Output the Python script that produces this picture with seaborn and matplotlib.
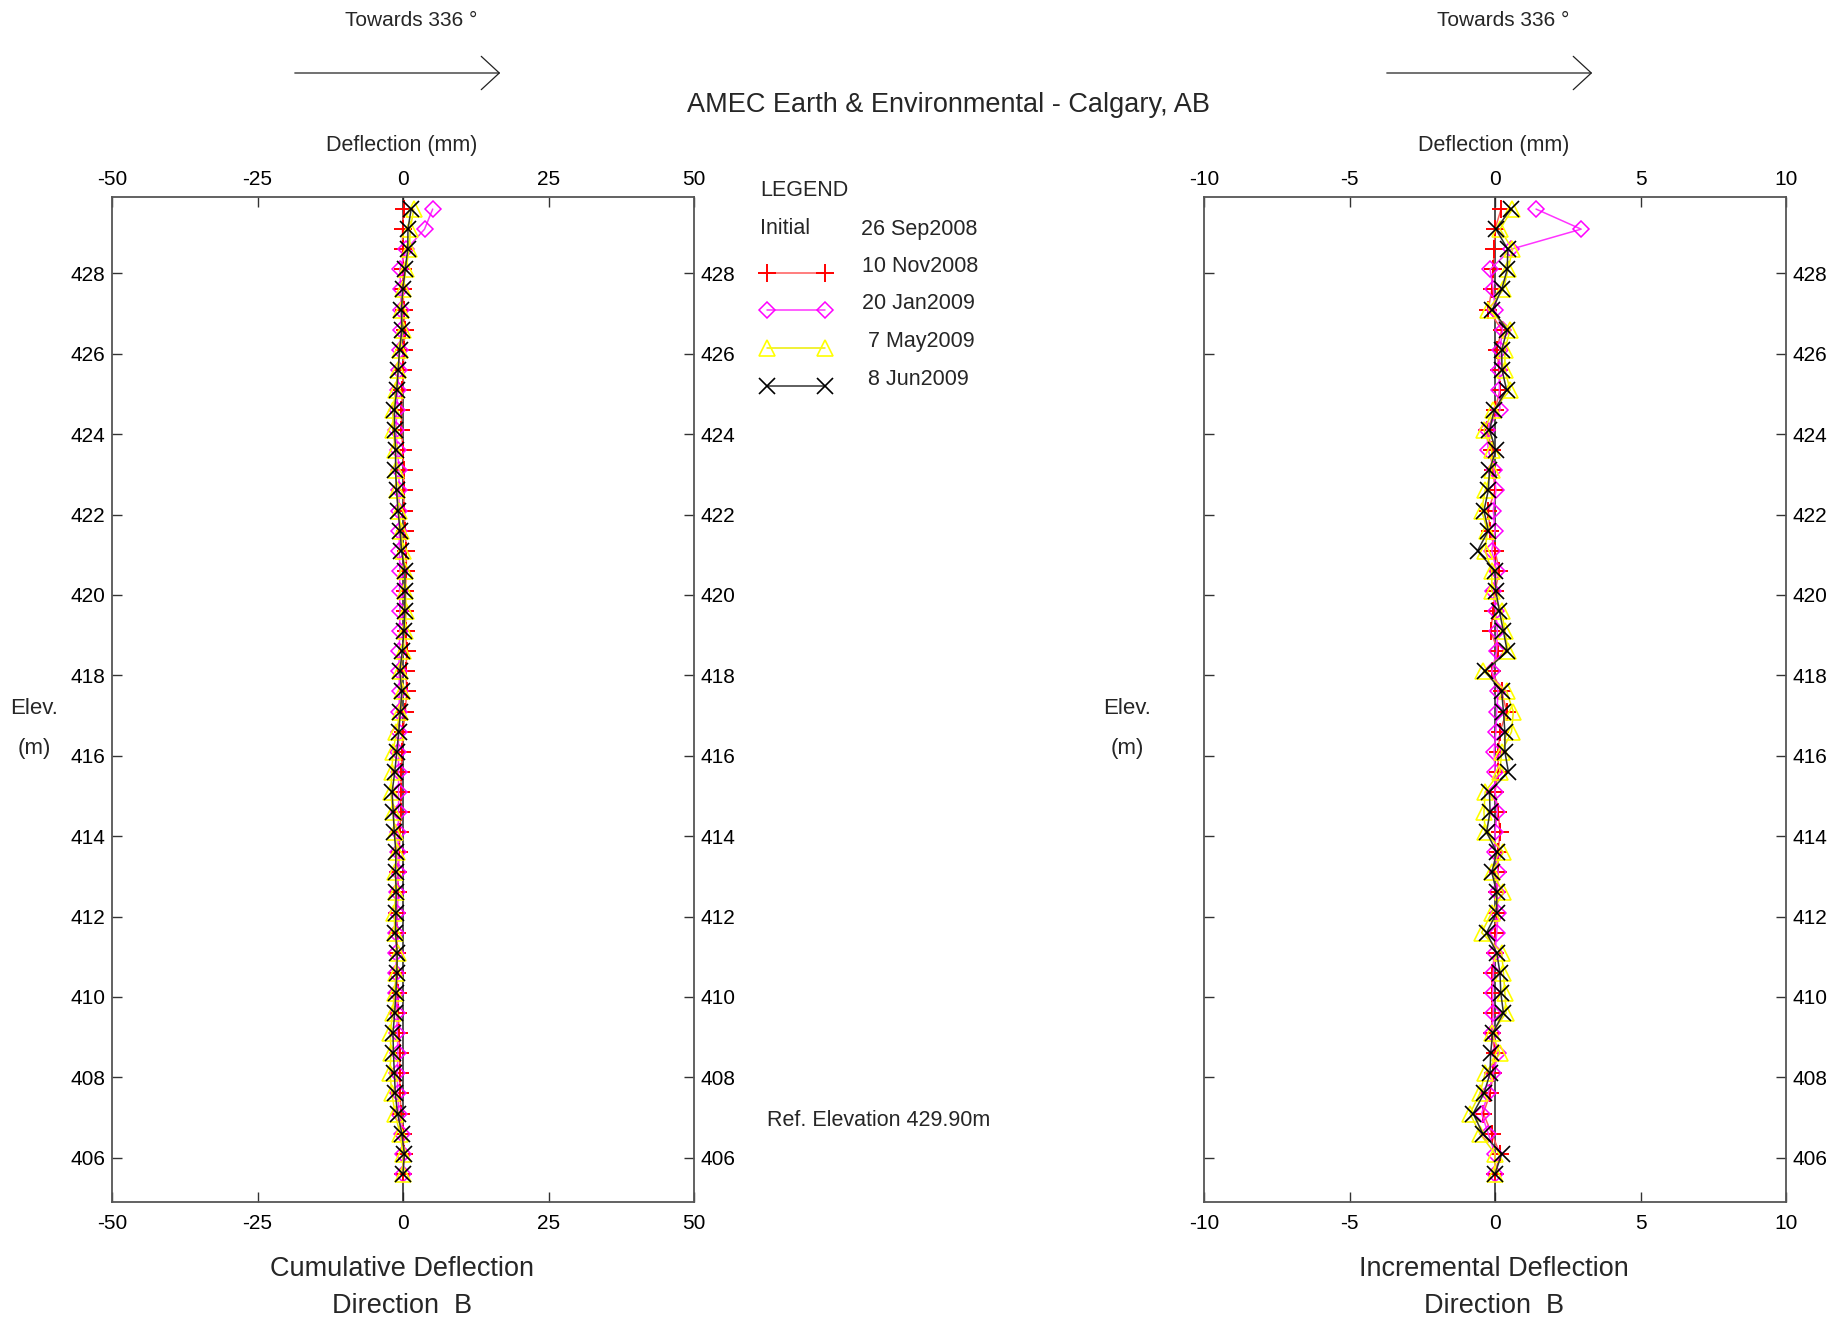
import numpy as np
import pandas as pd
import seaborn as sns
import matplotlib.pyplot as plt
from matplotlib.lines import Line2D
from matplotlib.patches import FancyArrowPatch

# elevations of the readings (m)
elev = [429.6, 429.1, 428.6, 428.1, 427.6, 427.1, 426.6, 426.1, 425.6, 425.1,
        424.6, 424.1, 423.6, 423.1, 422.6, 422.1, 421.6, 421.1, 420.6, 420.1,
        419.6, 419.1, 418.6, 418.1, 417.6, 417.1, 416.6, 416.1, 415.6, 415.1,
        414.6, 414.1, 413.6, 413.1, 412.6, 412.1, 411.6, 411.1, 410.6, 410.1,
        409.6, 409.1, 408.6, 408.1, 407.6, 407.1, 406.6, 406.1, 405.6]

# cumulative deflection (mm)
cum_nov = [0.13, -0.08, -0.08, -0.05, 0.01, 0.12, 0.35, 0.12, 0.06, -0.09,
           -0.26, -0.26, 0.00, 0.11, 0.17, 0.17, 0.40, 0.57, 0.57, 0.42,
           0.42, 0.48, 0.63, 0.52, 0.63, 0.40, 0.00, -0.17, -0.28, -0.39,
           -0.39, -0.50, -0.67, -0.78, -0.89, -0.95, -1.01, -1.01, -1.01, -0.90,
           -0.79, -0.68, -0.57, -0.57, -0.51, -0.34, 0.06, 0.17, 0.00]
cum_jan = [5.10, 3.70, 0.60, -0.55, -0.38, -0.32, -0.32, -0.58, -0.75, -0.90,
           -1.05, -1.22, -0.93, -0.70, -0.67, -0.70, -0.64, -0.64, -0.53, -0.59,
           -0.53, -0.56, -0.64, -0.70, -0.59, -0.70, -0.76, -0.79, -0.76, -0.76,
           -0.76, -0.84, -0.84, -0.84, -0.95, -1.01, -1.12, -1.18, -1.18, -1.12,
           -1.04, -0.98, -0.87, -0.98, -0.92, -0.69, -0.23, 0.00, 0.00]
cum_may = [1.85, 1.25, 1.08, 0.48, 0.03, -0.26, -0.03, -0.55, -0.89, -1.23,
           -1.75, -1.69, -1.31, -1.20, -1.09, -0.75, -0.29, -0.03, 0.31, 0.42,
           0.53, 0.30, -0.04, -0.50, -0.10, -0.50, -1.13, -1.70, -1.93, -2.10,
           -1.76, -1.38, -1.04, -1.33, -1.22, -1.51, -1.40, -0.94, -1.17, -1.46,
           -1.80, -2.18, -2.07, -2.24, -1.90, -1.38, -0.52, 0.00, 0.00]
cum_jun = [1.40, 0.85, 0.82, 0.38, -0.04, -0.27, -0.18, -0.60, -0.83, -1.07,
           -1.47, -1.45, -1.26, -1.29, -1.10, -0.87, -0.49, -0.26, 0.34, 0.34,
           0.31, 0.16, -0.13, -0.55, -0.21, -0.44, -0.73, -1.07, -1.41, -1.87,
           -1.68, -1.51, -1.22, -1.28, -1.17, -1.23, -1.29, -1.00, -1.06, -1.23,
           -1.43, -1.72, -1.64, -1.49, -1.32, -0.94, -0.19, 0.23, 0.00]

# incremental deflection (mm)
inc_nov = [0.21, 0.00, -0.03, -0.06, -0.11, -0.23, 0.23, 0.06, 0.15, 0.17,
           0.00, -0.26, -0.11, -0.06, 0.00, -0.23, -0.17, 0.00, 0.15, 0.00,
           -0.06, -0.15, 0.11, -0.11, 0.23, 0.40, 0.17, 0.11, 0.11, 0.00,
           0.11, 0.17, 0.11, 0.11, 0.06, 0.06, 0.00, 0.00, -0.11, -0.11,
           -0.11, -0.11, 0.00, -0.06, -0.17, -0.40, -0.11, 0.17, 0.00]
inc_jan = [1.41, 2.96, 0.55, -0.17, -0.06, 0.00, 0.26, 0.17, 0.15, 0.15,
           0.17, -0.29, -0.23, -0.03, 0.03, -0.06, 0.00, -0.11, 0.06, -0.06,
           0.03, 0.08, 0.06, -0.11, 0.11, 0.06, 0.03, -0.03, 0.00, 0.00,
           0.08, 0.00, 0.00, 0.11, 0.06, 0.11, 0.06, 0.00, -0.06, -0.08,
           -0.06, -0.11, 0.11, -0.06, -0.23, -0.46, -0.23, 0.00, 0.00]
inc_may = [0.60, 0.17, 0.60, 0.45, 0.29, -0.23, 0.52, 0.34, 0.34, 0.52,
           -0.06, -0.38, -0.11, -0.11, -0.34, -0.46, -0.26, -0.34, -0.11, -0.11,
           0.23, 0.34, 0.46, -0.40, 0.40, 0.63, 0.57, 0.23, 0.17, -0.34,
           -0.38, -0.34, 0.29, -0.11, 0.29, -0.11, -0.46, 0.23, 0.29, 0.34,
           0.38, -0.11, 0.17, -0.34, -0.52, -0.86, -0.52, 0.00, 0.00]
inc_jun = [0.55, 0.03, 0.44, 0.42, 0.23, -0.09, 0.42, 0.23, 0.24, 0.40,
           -0.02, -0.19, 0.03, -0.19, -0.23, -0.38, -0.23, -0.60, 0.00, 0.03,
           0.15, 0.29, 0.42, -0.34, 0.23, 0.29, 0.34, 0.34, 0.46, -0.19,
           -0.17, -0.29, 0.06, -0.11, 0.06, 0.06, -0.29, 0.06, 0.17, 0.20,
           0.29, -0.08, -0.15, -0.17, -0.38, -0.75, -0.42, 0.23, 0.00]

dates = ['10 Nov2008', '20 Jan2009', ' 7 May2009', ' 8 Jun2009']

sns.set_theme(style='white')
plt.rcParams['font.family'] = ['Liberation Sans', 'DejaVu Sans']
plt.rcParams['axes.unicode_minus'] = False

W, H = 1847, 1323
fig = plt.figure(figsize=(W / 100, H / 100), dpi=100)


def fx(px):
    return px / W


def fy(py):
    return 1 - py / H


# marker / line styles per survey
styles = [
    dict(marker='+', color='#ff5a5a', markeredgecolor='red', markersize=13, markeredgewidth=1.4),
    dict(marker='D', color='#ff33ff', markeredgecolor='#ff00ff', markerfacecolor='none',
         markersize=8, markeredgewidth=1.1),
    dict(marker='^', color='#eeee00', markeredgecolor='#ffff00', markerfacecolor='none',
         markersize=11, markeredgewidth=1.2),
    dict(marker='x', color='#333333', markeredgecolor='black', markersize=11.5, markeredgewidth=1.2),
]


def draw_panel(ax, series, xticks, ylabels_left):
    ax.axvline(0, color='#222222', lw=1.1, zorder=1)
    for vals, st in zip(series, styles):
        df = pd.DataFrame({'defl': vals, 'elev': elev})
        sns.lineplot(data=df, x='defl', y='elev', sort=False, estimator=None,
                     ax=ax, lw=1.1, zorder=3, **st)
    ax.set_xlim(xticks[0], xticks[-1])
    ax.set_ylim(404.9, 429.9)
    ax.set_xticks(xticks)
    ax.set_yticks(range(406, 429, 2))
    ax.set_xlabel('')
    ax.set_ylabel('')
    ax.tick_params(direction='in', length=7.5, width=1.0, color='#333333',
                   top=True, bottom=True, left=True, right=True,
                   labeltop=False, labelbottom=True, labelleft=ylabels_left,
                   labelright=True, labelsize=15, labelcolor='black')
    ax.tick_params(axis='x', pad=8.5)
    ax.tick_params(axis='y', pad=5)
    # top tick labels sit a little closer to the frame
    top = ax.secondary_xaxis('top')
    top.set_xticks(xticks)
    top.tick_params(length=0, pad=6, labelsize=15, labelcolor='black')
    top.spines['top'].set_visible(False)
    for s in ax.spines.values():
        s.set_color('#555555')
        s.set_linewidth(1.3)


ax1 = fig.add_axes([fx(112), fy(1202), fx(582), 1005 / H])
ax2 = fig.add_axes([fx(1204), fy(1202), fx(582), 1005 / H])
draw_panel(ax1, [cum_nov, cum_jan, cum_may, cum_jun], [-50, -25, 0, 25, 50], True)
draw_panel(ax2, [inc_nov, inc_jan, inc_may, inc_jun], [-10, -5, 0, 5, 10], False)

# headings and labels
fig.text(fx(948), fy(105), 'AMEC Earth & Environmental - Calgary, AB',
         ha='center', va='center', fontsize=19.5)
for cx in (402, 1494):
    fig.text(fx(cx + 9), fy(21), 'Towards 336 \u00b0', ha='center', va='center', fontsize=15)
    fig.text(fx(cx), fy(146), 'Deflection (mm)', ha='center', va='center', fontsize=15.5)
for cx, name in ((402, 'Cumulative Deflection'), (1494, 'Incremental Deflection')):
    fig.text(fx(cx), fy(1269), name, ha='center', va='center', fontsize=19.5)
    fig.text(fx(cx), fy(1306), 'Direction  B', ha='center', va='center', fontsize=19.5)
for cx in (34, 1127):
    fig.text(fx(cx), fy(709), 'Elev.', ha='center', va='center', fontsize=16)
    fig.text(fx(cx), fy(748), '(m)', ha='center', va='center', fontsize=16)

for x0 in (292, 1384):
    arr = FancyArrowPatch((fx(x0), fy(73)), (fx(x0 + 211), fy(73)),
                          transform=fig.transFigure,
                          arrowstyle='->,head_length=13,head_width=12',
                          color='#222222', lw=0.9)
    fig.add_artist(arr)

fig.text(fx(767), fy(1120), 'Ref. Elevation 429.90m', ha='left', va='center', fontsize=15.5)

# legend block
fig.text(fx(760), fy(191), 'LEGEND', ha='left', va='center', fontsize=15.5)
fig.text(fx(760), fy(229), 'Initial', ha='left', va='center', fontsize=15.5)
fig.text(fx(861), fy(229), '26 Sep2008', ha='left', va='center', fontsize=15.5)
for i, (lab, st) in enumerate(zip(dates, styles)):
    ly = 272.5 + 37.8 * i
    ty = 266 + 37.8 * i
    fig.add_artist(Line2D([fx(767), fx(825)], [fy(ly), fy(ly)], lw=1.1,
                          transform=fig.transFigure, **st))
    fig.text(fx(862), fy(ty), lab, ha='left', va='center', fontsize=15.5)

fig.savefig('out.png', dpi=100)
